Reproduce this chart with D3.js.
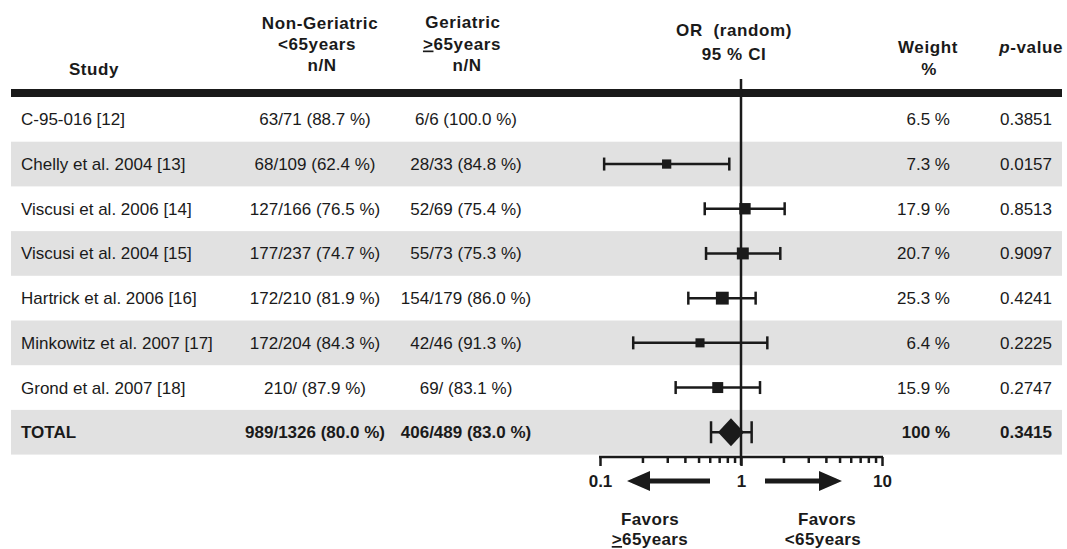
<!DOCTYPE html>
<html>
<head>
<meta charset="utf-8">
<script src="https://cdn.jsdelivr.net/npm/d3@7"></script>
<style>
  body { margin: 0; background: #fff; }
  svg text { font-family: "Liberation Sans", Arial, Helvetica, sans-serif; fill: #1a1a1a; }
</style>
</head>
<body>
<svg id="chart"></svg>
<script>
// forest plot data
const studies = ["C-95-016 [12]", "Chelly et al. 2004 [13]", "Viscusi et al. 2006 [14]", "Viscusi et al. 2004 [15]",
                 "Hartrick et al. 2006 [16]", "Minkowitz et al. 2007 [17]", "Grond et al. 2007 [18]", "TOTAL"];
const nonGeriatric = ["63/71 (88.7 %)", "68/109 (62.4 %)", "127/166 (76.5 %)", "177/237 (74.7 %)",
                      "172/210 (81.9 %)", "172/204 (84.3 %)", "210/ (87.9 %)", "989/1326 (80.0 %)"];
const geriatric = ["6/6 (100.0 %)", "28/33 (84.8 %)", "52/69 (75.4 %)", "55/73 (75.3 %)",
                   "154/179 (86.0 %)", "42/46 (91.3 %)", "69/ (83.1 %)", "406/489 (83.0 %)"];
const oddsRatio = [null, 0.297, 1.067, 1.03, 0.737, 0.512, 0.684, 0.849];
const ciLow     = [null, 0.107, 0.553, 0.565, 0.423, 0.172, 0.344, 0.613];
const ciHigh    = [null, 0.826, 2.04, 1.90, 1.27, 1.537, 1.364, 1.19];
const weights = [6.5, 7.3, 17.9, 20.7, 25.3, 6.4, 15.9, 100];
const weightLabels = ["6.5 %", "7.3 %", "17.9 %", "20.7 %", "25.3 %", "6.4 %", "15.9 %", "100 %"];
const pValues = ["0.3851", "0.0157", "0.8513", "0.9097", "0.4241", "0.2225", "0.2747", "0.3415"];
const majorTicks = [0.1, 1, 10];
const minorTicks = [0.2, 0.3, 0.4, 0.5, 0.6, 0.7, 0.8, 0.9, 2, 3, 4, 5, 6, 7, 8, 9];

const W = 1067, H = 549;
const ink = "#1a1a1a";
const fontSize = 17;

const svg = d3.select("#chart").attr("width", W).attr("height", H);

const x = d3.scaleLog().domain([0.1, 10]).range([600, 882]);
const y = d3.scaleBand().domain(studies).range([97, 454.6]);
const boxSize = d3.scaleLinear().domain([6, 26]).range([9, 13]).clamp(true);

const rows = studies.map((s, i) => ({
    study: s, ng: nonGeriatric[i], g: geriatric[i], or: oddsRatio[i],
    lo: ciLow[i], hi: ciHigh[i], w: weights[i], wl: weightLabels[i], p: pValues[i],
    total: s === "TOTAL", i: i
}));

// striped rows
svg.append("g").selectAll("rect")
    .data(rows.filter(d => d.i % 2 === 1))
    .join("rect")
    .attr("x", 11).attr("width", 1051)
    .attr("y", d => y(d.study)).attr("height", y.bandwidth())
    .attr("fill", "#e1e1e1");

// header
const header = svg.append("g").attr("font-weight", "bold").attr("font-size", fontSize)
    .attr("text-anchor", "middle").attr("letter-spacing", 0.6);
header.append("text").attr("x", 94).attr("y", 75).text("Study");
header.append("text").attr("x", 320).attr("y", 29).text("Non-Geriatric");
header.append("text").attr("x", 317).attr("y", 50).text("<65years");
header.append("text").attr("x", 322).attr("y", 71).text("n/N");
header.append("text").attr("x", 463).attr("y", 28).text("Geriatric");
const ge = header.append("text").attr("x", 462).attr("y", 49.5);
ge.append("tspan").attr("text-decoration", "underline").text(">");
ge.append("tspan").text("65years");
header.append("text").attr("x", 467).attr("y", 71).text("n/N");
header.append("text").attr("x", 734).attr("y", 36).attr("xml:space", "preserve").text("OR  (random)");
header.append("text").attr("x", 734).attr("y", 60).text("95 % CI");
header.append("text").attr("x", 928).attr("y", 53).text("Weight");
header.append("text").attr("x", 929).attr("y", 75).text("%");
const pv = header.append("text").attr("x", 1063).attr("y", 53).attr("text-anchor", "end");
pv.append("tspan").attr("font-style", "italic").text("p");
pv.append("tspan").text("-value");

// thick rule under header
svg.append("rect").attr("x", 11).attr("y", 89).attr("width", 1051).attr("height", 8).attr("fill", ink);

// table text
const cy = d => y(d.study) + y.bandwidth() / 2 + 6;
const body = svg.append("g").attr("font-size", fontSize);
const rowG = body.selectAll("g").data(rows).join("g")
    .attr("font-weight", d => d.total ? "bold" : null);
rowG.append("text").attr("x", 21).attr("y", cy).text(d => d.study);
rowG.append("text").attr("x", 315).attr("y", cy).attr("text-anchor", "middle").text(d => d.ng);
rowG.append("text").attr("x", 466).attr("y", cy).attr("text-anchor", "middle").text(d => d.g);
rowG.append("text").attr("x", 950).attr("y", cy).attr("text-anchor", "end").text(d => d.wl);
rowG.append("text").attr("x", 1026).attr("y", cy).attr("text-anchor", "middle").text(d => d.p);

// reference line at OR = 1
svg.append("line")
    .attr("x1", x(1)).attr("x2", x(1)).attr("y1", 79).attr("y2", 465)
    .attr("stroke", ink).attr("stroke-width", 2.5);

// confidence intervals
const plot = svg.append("g");
const est = rows.filter(d => d.or !== null);
const mid = d => y(d.study) + y.bandwidth() / 2;

plot.selectAll(".ci").data(est).join("line")
    .attr("x1", d => x(d.lo)).attr("x2", d => x(d.hi))
    .attr("y1", mid).attr("y2", mid)
    .attr("stroke", ink).attr("stroke-width", 2.5);

["lo", "hi"].forEach(k => {
    plot.selectAll(".cap-" + k).data(est).join("line")
        .attr("x1", d => x(d[k])).attr("x2", d => x(d[k]))
        .attr("y1", d => mid(d) - (d.total ? 11 : 6.5))
        .attr("y2", d => mid(d) + (d.total ? 11 : 6.5))
        .attr("stroke", ink).attr("stroke-width", 2.5);
});

plot.selectAll(".box").data(est.filter(d => !d.total)).join("rect")
    .attr("x", d => x(d.or) - boxSize(d.w) / 2)
    .attr("y", d => mid(d) - boxSize(d.w) / 2)
    .attr("width", d => boxSize(d.w)).attr("height", d => boxSize(d.w))
    .attr("fill", ink);

plot.selectAll(".diamond").data(est.filter(d => d.total)).join("path")
    .attr("d", d => {
        const cx = x(d.or), c = mid(d);
        return `M${cx - 13},${c} L${cx},${c - 14} L${cx + 13},${c} L${cx},${c + 14} Z`;
    })
    .attr("fill", ink);

// log axis
const axisY = 457;
const minorAxis = svg.append("g").attr("transform", `translate(0,${axisY})`)
    .call(d3.axisBottom(x).tickValues(minorTicks).tickSize(6).tickFormat(""));
const majorAxis = svg.append("g").attr("transform", `translate(0,${axisY})`)
    .call(d3.axisBottom(x).tickValues(majorTicks).tickSize(9).tickPadding(9)
        .tickFormat(d => d3.format("~g")(d)));
[minorAxis, majorAxis].forEach(g => {
    g.select(".domain").remove();
    g.selectAll("line").attr("stroke", ink).attr("stroke-width", 2.5);
});
majorAxis.selectAll("text")
    .attr("font-size", fontSize).attr("font-weight", "bold")
    .attr("font-family", "'Liberation Sans', Arial, sans-serif").attr("fill", ink);
svg.append("line").attr("x1", x(0.1) - 1).attr("x2", x(10) + 1)
    .attr("y1", axisY).attr("y2", axisY).attr("stroke", ink).attr("stroke-width", 2.5);

// arrows
const arrow = (tail, tip, ay) => {
    const dir = Math.sign(tip - tail), head = 23, hw = 10, sw = 2.5;
    const b = tip - dir * head;
    return `M${tail},${ay - sw} L${b},${ay - sw} L${b},${ay - hw} L${tip},${ay} L${b},${ay + hw} L${b},${ay + sw} L${tail},${ay + sw} Z`;
};
svg.append("path").attr("d", arrow(710, 627, 481)).attr("fill", ink);
svg.append("path").attr("d", arrow(765, 842, 481)).attr("fill", ink);

// favours labels
const fav = svg.append("g").attr("font-size", fontSize).attr("font-weight", "bold")
    .attr("text-anchor", "middle").attr("letter-spacing", 0.4);
fav.append("text").attr("x", 650).attr("y", 525).text("Favors");
const fl = fav.append("text").attr("x", 650).attr("y", 545);
fl.append("tspan").attr("text-decoration", "underline").text(">");
fl.append("tspan").text("65years");
fav.append("text").attr("x", 827).attr("y", 525).text("Favors");
fav.append("text").attr("x", 823).attr("y", 545).text("<65years");
</script>
</body>
</html>
